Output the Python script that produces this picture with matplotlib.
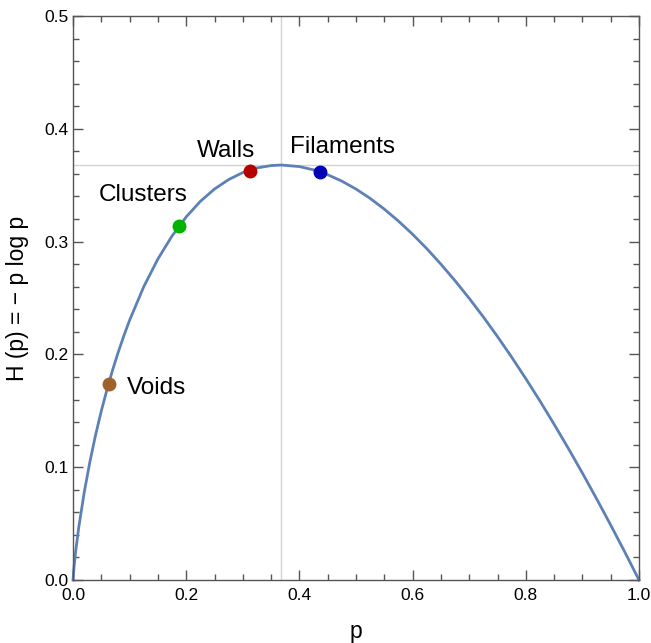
import matplotlib
matplotlib.use("Agg")
import matplotlib.pyplot as plt
from matplotlib.ticker import MultipleLocator

plt.rcParams['font.family'] = ['Liberation Sans', 'DejaVu Sans']

# Curve values (p, H)
curve_p = [0.0, 0.002, 0.005, 0.01, 0.02, 0.03, 0.04, 0.05, 0.06, 0.07, 0.08, 0.09,
           0.10, 0.125, 0.15, 0.175, 0.20, 0.225, 0.25, 0.275, 0.30, 0.325, 0.35,
           0.368, 0.40, 0.425, 0.45, 0.475, 0.50, 0.525, 0.55, 0.575, 0.60, 0.625,
           0.65, 0.675, 0.70, 0.725, 0.75, 0.775, 0.80, 0.825, 0.85, 0.875, 0.90,
           0.925, 0.95, 0.975, 1.0]
curve_h = [0.0, 0.0124, 0.0265, 0.0461, 0.0782, 0.1052, 0.1288, 0.1498, 0.1688, 0.1862,
           0.2021, 0.2167, 0.2303, 0.2600, 0.2846, 0.3050, 0.3219, 0.3357, 0.3466, 0.3550,
           0.3612, 0.3653, 0.3674, 0.3679, 0.3665, 0.3636, 0.3593, 0.3536, 0.3466, 0.3383,
           0.3288, 0.3182, 0.3065, 0.2938, 0.2800, 0.2653, 0.2497, 0.2332, 0.2158, 0.1976,
           0.1785, 0.1587, 0.1381, 0.1168, 0.0948, 0.0721, 0.0487, 0.0247, 0.0]

peak_p = 0.368
peak_h = 0.368

point_names = ["Voids", "Clusters", "Walls", "Filaments"]
point_p = [0.063, 0.187, 0.312, 0.437]
point_h = [0.174, 0.314, 0.363, 0.362]
point_colors = ["#A0622D", "#00B400", "#B40000", "#0000B4"]

fig = plt.figure(figsize=(6.51, 6.43), dpi=100)
ax = fig.add_axes([73/651, 63/643, 566/651, 564/643])

ax.axvline(peak_p, color="#D3D3D3", lw=1.0, zorder=1)
ax.axhline(peak_h, color="#D3D3D3", lw=1.0, zorder=1)

ax.plot(curve_p, curve_h, color="#5E81B5", lw=2.0, zorder=2, clip_on=False)

for name, px, py, c in zip(point_names, point_p, point_h, point_colors):
    ax.plot(px, py, 'o', color=c, ms=9, zorder=3)

fs = 17.5
ax.annotate("Voids", (point_p[0], point_h[0]), xytext=(13, -3), textcoords="offset points",
            fontsize=fs, ha="left", va="center")
ax.annotate("Clusters", (point_p[1], point_h[1]), xytext=(6, 22), textcoords="offset points",
            fontsize=fs, ha="right", va="center")
ax.annotate("Walls", (point_p[2], point_h[2]), xytext=(-17, 14), textcoords="offset points",
            fontsize=fs, ha="center", va="center")
ax.annotate("Filaments", (point_p[3], point_h[3]), xytext=(-22, 18), textcoords="offset points",
            fontsize=fs, ha="left", va="center")

ax.set_xlim(0, 1)
ax.set_ylim(0, 0.5)
ax.xaxis.set_major_locator(MultipleLocator(0.2))
ax.xaxis.set_minor_locator(MultipleLocator(0.05))
ax.yaxis.set_major_locator(MultipleLocator(0.1))
ax.yaxis.set_minor_locator(MultipleLocator(0.02))
ax.xaxis.set_major_formatter(plt.FuncFormatter(lambda v, _: f"{v:.1f}"))
ax.yaxis.set_major_formatter(plt.FuncFormatter(lambda v, _: f"{v:.1f}"))

ax.tick_params(which="both", direction="in", top=True, right=True, color="#555555",
               labelsize=12.5, width=1.0)
ax.tick_params(which="major", length=7)
ax.tick_params(which="minor", length=4)
ax.tick_params(axis="x", pad=6)
ax.tick_params(axis="y", pad=3)
for s in ax.spines.values():
    s.set_color("#555555")
    s.set_linewidth(1.0)

ax.set_xlabel("p", fontsize=16.5, labelpad=12)
ax.set_ylabel("H (p) = \u2212 p log p", fontsize=16.5, labelpad=11)

fig.savefig("out.png", dpi=100)
